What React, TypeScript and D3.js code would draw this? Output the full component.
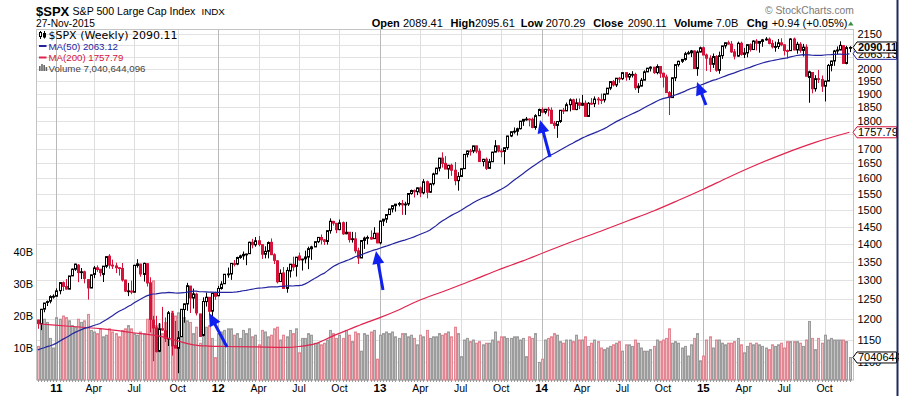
import React from 'react';
import * as d3 from 'd3';

// ---------- DATA ----------
const firstBarDate = new Date(2010, 10, 26); // weekly bars, first bar week ending 26-Nov-2010

const opens: number[] = [
  1198.0, 1189.0, 1225.0, 1242.0, 1245.0, 1256.0,
  1257.6, 1272.0, 1293.0, 1283.0, 1276.0, 1311.0, 1329.0, 1340.0, 1322.0, 1322.0, 1301.0, 1279.0, 1315.0, 1333.0, 1329.0, 1315.0, 1337.0, 1365.0, 1340.0, 1338.0, 1333.0, 1331.0, 1300.0, 1271.0, 1271.0, 1268.0, 1339.0, 1343.0, 1315.0, 1344.0, 1292.0, 1198.0, 1179.0, 1124.0, 1177.0, 1172.0, 1153.0, 1214.0, 1137.0, 1131.0, 1158.0, 1224.0, 1238.0, 1284.0, 1253.0, 1263.0, 1213.0, 1161.0, 1244.0, 1255.0, 1220.0, 1265.0,
  1258.9, 1277.8, 1290.2, 1315.0, 1316.2, 1344.3, 1343.0, 1361.2, 1365.9, 1369.6, 1371.9, 1404.2, 1397.1, 1408.5, 1397.5, 1370.3, 1378.5, 1404.0, 1368.8, 1351.9, 1296.0, 1318.9, 1278.0, 1324.2, 1342.4, 1337.0, 1365.5, 1354.7, 1357.5, 1362.3, 1385.8, 1390.9, 1405.9, 1417.9, 1411.1, 1406.5, 1437.9, 1465.4, 1459.5, 1440.9, 1461.4, 1428.8, 1433.2, 1411.9, 1414.0, 1380.0, 1359.9, 1409.5, 1416.3, 1418.1, 1414.6, 1430.6,
  1402.4, 1466.5, 1472.1, 1485.9, 1503.0, 1513.2, 1517.9, 1519.8, 1515.6, 1518.2, 1551.2, 1560.7, 1556.9, 1569.2, 1553.3, 1588.9, 1555.3, 1582.3, 1614.4, 1633.7, 1667.5, 1649.6, 1630.7, 1643.4, 1626.7, 1592.4, 1606.3, 1631.9, 1680.3, 1692.1, 1691.7, 1709.7, 1691.4, 1655.8, 1663.5, 1633.0, 1655.2, 1688.0, 1709.9, 1691.8, 1690.5, 1703.2, 1744.5, 1759.8, 1761.6, 1770.6, 1798.2, 1804.8, 1805.8, 1805.1, 1775.3, 1818.3,
  1841.4, 1831.4, 1842.4, 1838.7, 1790.3, 1782.6, 1797.0, 1838.6, 1836.3, 1859.5, 1878.0, 1841.1, 1866.5, 1857.6, 1865.1, 1815.7, 1864.9, 1863.4, 1881.1, 1878.5, 1877.9, 1900.5, 1923.6, 1949.4, 1936.2, 1962.9, 1961.0, 1985.4, 1967.6, 1978.2, 1978.3, 1925.2, 1931.6, 1955.1, 1988.4, 2003.4, 2007.7, 1985.5, 2010.4, 1982.9, 1967.9, 1906.1, 1886.8, 1964.6, 2018.1, 2031.9, 2039.8, 2063.5, 2067.6, 2075.4, 2002.3, 2070.7,
  2088.8, 2058.2, 2044.8, 2019.4, 2051.8, 1995.0, 2055.5, 2097.0, 2110.3, 2104.5, 2071.3, 2053.4, 2108.1, 2061.0, 2067.0, 2102.1, 2081.2, 2117.7, 2108.3, 2116.1, 2122.7, 2126.1, 2107.4, 2092.8, 2094.1, 2110.0, 2101.5, 2076.8, 2076.6, 2126.6, 2079.7, 2103.8, 2077.6, 2091.5, 1966.0, 1986.0, 1921.2, 1961.1, 1958.0, 1931.3, 1951.4, 2014.9, 2033.1, 2075.2, 2079.4, 2098.0, 2023.0, 2089.41,
];

const highs: number[] = [
  1198.9, 1225.6, 1240.4, 1246.7, 1260.1, 1262.6,
  1278.2, 1293.2, 1296.1, 1302.7, 1311.0, 1330.8, 1344.1, 1342.9, 1332.3, 1325.0, 1302.6, 1314.4, 1337.9, 1339.5, 1329.0, 1337.5, 1364.6, 1370.6, 1355.4, 1346.8, 1334.0, 1346.0, 1300.4, 1292.5, 1298.6, 1341.0, 1356.5, 1343.8, 1347.0, 1345.0, 1307.4, 1208.5, 1208.5, 1190.7, 1230.7, 1204.4, 1220.4, 1220.4, 1195.9, 1171.4, 1224.6, 1239.0, 1292.7, 1284.6, 1277.6, 1266.9, 1213.3, 1255.0, 1267.1, 1255.2, 1265.4, 1269.4,
  1284.6, 1296.8, 1315.5, 1333.5, 1345.3, 1354.3, 1363.4, 1368.9, 1378.0, 1372.0, 1405.9, 1414.0, 1419.2, 1422.4, 1397.5, 1392.8, 1406.6, 1415.3, 1373.0, 1353.5, 1328.5, 1334.9, 1334.5, 1343.3, 1363.5, 1362.2, 1374.8, 1357.7, 1380.4, 1391.7, 1394.2, 1405.9, 1418.7, 1426.7, 1413.5, 1438.0, 1474.5, 1467.1, 1460.9, 1470.9, 1465.0, 1464.0, 1433.2, 1434.3, 1433.4, 1388.8, 1409.2, 1420.6, 1423.7, 1438.6, 1448.0, 1430.6,
  1467.9, 1472.3, 1486.0, 1503.3, 1514.4, 1518.3, 1524.7, 1530.9, 1525.3, 1552.5, 1563.6, 1564.0, 1570.3, 1573.7, 1597.4, 1592.6, 1585.0, 1618.5, 1635.0, 1667.5, 1687.2, 1674.2, 1644.4, 1648.7, 1654.2, 1620.1, 1632.1, 1680.2, 1693.1, 1698.8, 1709.7, 1709.7, 1701.0, 1664.8, 1669.5, 1664.8, 1689.0, 1729.9, 1711.0, 1700.7, 1703.4, 1745.3, 1759.8, 1775.2, 1774.5, 1798.2, 1804.8, 1813.6, 1808.4, 1811.5, 1823.8, 1844.9,
  1849.4, 1843.2, 1850.8, 1849.3, 1798.8, 1798.0, 1838.6, 1847.5, 1867.9, 1883.6, 1882.4, 1883.0, 1883.4, 1897.3, 1875.9, 1869.6, 1884.9, 1891.3, 1889.1, 1902.2, 1901.3, 1924.0, 1949.4, 1955.6, 1963.9, 1968.2, 1985.6, 1985.6, 1983.9, 1991.4, 1984.9, 1942.9, 1964.0, 1994.8, 2005.0, 2011.2, 2007.7, 2019.3, 2010.4, 1985.2, 1977.4, 1912.1, 1965.3, 2018.2, 2034.3, 2041.3, 2071.5, 2075.8, 2079.5, 2077.3, 2077.9, 2093.6,
  2093.6, 2064.4, 2056.9, 2064.6, 2057.6, 2072.4, 2097.0, 2110.6, 2119.6, 2117.5, 2083.5, 2114.9, 2114.9, 2088.4, 2102.6, 2107.7, 2120.9, 2125.9, 2117.7, 2126.8, 2134.7, 2133.2, 2121.9, 2115.0, 2126.6, 2129.9, 2102.6, 2081.3, 2129.9, 2132.8, 2114.2, 2112.7, 2105.4, 2103.5, 1993.5, 1987.0, 1975.0, 1996.7, 1974.0, 1952.9, 2020.9, 2034.5, 2079.7, 2094.3, 2116.5, 2100.0, 2097.2, 2095.61,
];

const lows: number[] = [
  1176.9, 1173.6, 1217.2, 1232.9, 1239.5, 1251.5,
  1257.6, 1262.7, 1271.3, 1275.1, 1276.0, 1311.0, 1324.6, 1294.3, 1302.6, 1291.3, 1249.1, 1279.0, 1305.0, 1322.0, 1309.7, 1294.7, 1332.0, 1330.4, 1329.6, 1318.5, 1311.8, 1296.0, 1268.6, 1258.1, 1262.9, 1268.0, 1333.2, 1308.8, 1295.9, 1282.9, 1168.1, 1101.5, 1121.1, 1122.0, 1172.0, 1145.4, 1136.2, 1114.2, 1131.1, 1074.8, 1158.0, 1191.5, 1221.1, 1215.4, 1226.6, 1209.4, 1158.7, 1158.7, 1231.5, 1209.5, 1202.4, 1248.6,
  1258.0, 1274.7, 1290.2, 1306.1, 1300.5, 1336.6, 1340.0, 1357.7, 1354.9, 1340.0, 1370.9, 1386.9, 1391.6, 1392.8, 1357.4, 1358.8, 1358.8, 1367.9, 1343.1, 1291.0, 1295.2, 1277.8, 1266.7, 1306.6, 1324.4, 1309.3, 1352.0, 1325.4, 1345.0, 1329.2, 1354.6, 1390.9, 1401.8, 1398.0, 1396.6, 1397.4, 1429.1, 1452.8, 1430.5, 1439.4, 1425.5, 1427.3, 1403.3, 1403.3, 1373.0, 1343.4, 1359.9, 1385.4, 1398.1, 1411.6, 1413.6, 1401.6,
  1398.1, 1451.6, 1461.0, 1485.0, 1492.3, 1495.0, 1510.9, 1485.0, 1485.0, 1512.3, 1547.4, 1538.6, 1546.2, 1539.5, 1548.6, 1536.0, 1553.0, 1577.0, 1614.0, 1623.0, 1635.5, 1630.7, 1598.2, 1608.1, 1577.7, 1560.3, 1604.6, 1631.0, 1670.0, 1676.0, 1684.4, 1684.0, 1654.2, 1639.4, 1627.5, 1633.0, 1655.2, 1688.0, 1687.1, 1670.4, 1646.5, 1695.6, 1740.5, 1752.7, 1746.2, 1768.0, 1780.9, 1800.0, 1779.1, 1772.3, 1767.0, 1818.3,
  1827.7, 1823.7, 1815.8, 1790.3, 1770.5, 1737.9, 1791.8, 1824.6, 1836.3, 1834.4, 1839.6, 1839.1, 1842.7, 1855.0, 1814.4, 1815.7, 1859.7, 1850.6, 1859.8, 1862.4, 1868.1, 1900.5, 1915.9, 1930.1, 1927.8, 1944.7, 1956.0, 1952.9, 1955.6, 1965.7, 1916.4, 1904.8, 1929.9, 1955.1, 1988.4, 1990.1, 1980.3, 1978.5, 1964.0, 1926.0, 1906.1, 1820.7, 1886.8, 1951.4, 2010.0, 2025.2, 2034.5, 2060.1, 2049.6, 2002.3, 1972.6, 2069.3,
  2057.9, 1992.4, 1988.1, 2004.5, 1989.2, 1980.9, 2041.9, 2085.4, 2103.2, 2067.3, 2039.7, 2050.4, 2055.3, 2045.5, 2048.4, 2072.4, 2081.0, 2077.3, 2067.9, 2093.1, 2119.6, 2103.5, 2085.7, 2072.1, 2083.3, 2095.4, 2056.3, 2044.0, 2076.0, 2077.6, 2063.5, 2067.9, 2052.1, 1970.9, 1867.0, 1903.1, 1910.0, 1944.0, 1908.8, 1871.9, 1951.4, 1990.7, 2013.2, 2060.4, 2078.0, 2022.7, 2019.4, 2070.29,
];

const closes: number[] = [
  1189.4, 1224.7, 1240.4, 1243.9, 1256.8, 1257.6,
  1271.5, 1293.2, 1283.4, 1276.3, 1310.9, 1329.2, 1343.0, 1319.9, 1321.2, 1304.3, 1279.2, 1313.8, 1332.4, 1328.2, 1319.7, 1337.4, 1363.6, 1340.2, 1337.8, 1333.3, 1331.1, 1300.2, 1271.0, 1271.5, 1268.4, 1339.7, 1343.8, 1316.1, 1345.0, 1292.3, 1199.4, 1178.8, 1123.5, 1176.8, 1174.0, 1154.2, 1216.0, 1136.4, 1131.4, 1155.5, 1224.6, 1238.3, 1285.1, 1253.2, 1263.9, 1215.7, 1158.7, 1244.3, 1255.2, 1219.7, 1265.3, 1257.6,
  1277.8, 1289.1, 1315.4, 1316.3, 1344.9, 1342.6, 1361.2, 1365.7, 1370.0, 1370.9, 1404.2, 1397.1, 1408.5, 1398.1, 1370.3, 1378.5, 1403.4, 1369.1, 1353.4, 1295.2, 1317.8, 1278.0, 1325.7, 1342.8, 1335.0, 1362.2, 1354.7, 1356.8, 1362.7, 1386.0, 1391.0, 1405.9, 1418.2, 1411.1, 1406.6, 1437.9, 1465.8, 1460.2, 1440.7, 1460.9, 1428.6, 1433.2, 1411.9, 1414.2, 1379.9, 1359.9, 1409.2, 1416.2, 1418.1, 1413.6, 1430.2, 1402.4,
  1466.5, 1472.1, 1486.0, 1503.0, 1513.2, 1517.9, 1519.8, 1515.6, 1518.2, 1551.2, 1560.7, 1556.9, 1569.2, 1553.3, 1588.9, 1555.3, 1582.2, 1614.4, 1633.7, 1667.5, 1649.6, 1630.7, 1643.4, 1626.7, 1592.4, 1606.3, 1631.9, 1680.2, 1692.1, 1691.7, 1709.7, 1691.4, 1655.8, 1663.5, 1633.0, 1655.2, 1688.0, 1709.9, 1691.8, 1690.5, 1703.2, 1744.5, 1759.8, 1761.6, 1770.6, 1798.2, 1804.8, 1805.8, 1805.1, 1775.3, 1818.3, 1841.4,
  1831.4, 1842.4, 1838.7, 1790.3, 1782.6, 1797.0, 1838.6, 1836.3, 1859.5, 1878.0, 1841.1, 1866.5, 1857.6, 1865.1, 1815.7, 1864.9, 1863.4, 1881.1, 1878.5, 1877.9, 1900.5, 1923.6, 1949.4, 1936.2, 1962.9, 1961.0, 1985.4, 1967.6, 1978.2, 1978.3, 1925.2, 1931.6, 1955.1, 1988.4, 2003.4, 2007.7, 1985.5, 2010.4, 1982.9, 1967.9, 1906.1, 1886.8, 1964.6, 2018.1, 2031.9, 2039.8, 2063.5, 2067.6, 2075.4, 2002.3, 2070.7, 2088.8,
  2058.2, 2044.8, 2019.4, 2051.8, 1995.0, 2055.5, 2097.0, 2110.3, 2104.5, 2071.3, 2053.4, 2108.1, 2061.0, 2067.0, 2102.1, 2081.2, 2117.7, 2108.3, 2116.1, 2122.7, 2126.1, 2107.4, 2092.8, 2094.1, 2110.0, 2101.5, 2076.8, 2076.6, 2126.6, 2079.7, 2103.8, 2077.6, 2091.5, 1970.9, 1988.9, 1921.2, 1961.1, 1958.0, 1931.3, 1951.4, 2014.9, 2033.1, 2075.2, 2079.4, 2099.2, 2023.0, 2089.2, 2090.11,
];

// weekly volume, billions of shares
const volumesB: number[] = [
  10.5, 20.5, 19.0, 18.0, 13.0, 10.0,
  19.5, 19.0, 20.0, 19.5, 18.5, 17.0, 16.5, 19.0, 18.0, 18.5, 20.5, 15.5, 15.0, 14.5, 16.0, 13.5, 14.0, 16.0, 15.0, 14.5, 13.5, 15.5, 16.0, 17.0, 16.0, 14.5, 14.0, 15.0, 14.5, 19.0, 30.5, 31.0, 17.0, 17.5, 14.5, 18.0, 19.0, 21.5, 20.0, 21.0, 18.0, 19.5, 18.5, 18.0, 14.5, 16.5, 11.5, 18.5, 16.5, 17.0, 13.0, 7.0,
  14.5, 15.0, 15.5, 16.0, 16.0, 14.0, 14.5, 13.0, 15.5, 14.5, 16.0, 13.5, 14.0, 11.0, 15.5, 15.0, 13.5, 14.0, 16.0, 16.5, 12.5, 14.0, 13.5, 15.5, 14.5, 16.0, 8.5, 13.0, 13.0, 14.5, 14.0, 11.5, 11.5, 11.0, 11.5, 12.5, 15.5, 14.5, 13.0, 14.0, 13.0, 15.5, 14.0, 12.0, 15.0, 14.5, 9.0, 14.5, 14.0, 15.0, 15.5, 6.5,
  14.0, 14.5, 15.0, 14.5, 15.0, 13.5, 13.0, 14.5, 14.5, 13.5, 14.0, 13.0, 11.0, 14.0, 13.5, 15.5, 13.0, 13.5, 13.5, 14.5, 14.0, 14.5, 15.0, 13.5, 16.5, 14.5, 7.3, 12.5, 13.0, 12.0, 12.5, 11.5, 12.0, 11.0, 11.5, 11.5, 12.5, 15.0, 12.0, 13.5, 13.5, 13.0, 13.0, 13.5, 13.5, 12.5, 13.0, 7.3, 13.5, 13.0, 14.5, 5.5,
  6.5, 12.5, 13.0, 13.5, 14.5, 14.0, 12.0, 11.5, 12.5, 12.5, 12.0, 14.0, 12.5, 12.5, 13.5, 10.5, 11.5, 12.5, 12.0, 10.0, 9.5, 10.0, 10.5, 11.0, 11.5, 12.0, 9.0, 11.0, 11.0, 10.5, 12.5, 11.5, 10.0, 9.0, 9.0, 9.5, 10.5, 12.5, 12.0, 12.5, 13.0, 16.0, 11.5, 12.0, 11.5, 10.0, 10.5, 7.5, 11.0, 13.0, 14.5, 6.0,
  7.5, 12.5, 13.5, 10.0, 12.5, 12.5, 11.5, 11.0, 11.5, 11.5, 12.0, 13.0, 11.0, 8.5, 10.5, 11.5, 11.0, 11.5, 11.0, 10.5, 10.0, 9.5, 11.0, 10.5, 11.0, 11.5, 10.0, 12.0, 12.0, 12.0, 12.0, 11.5, 10.5, 12.5, 18.3, 13.0, 9.5, 13.0, 11.5, 14.0, 12.5, 13.0, 12.5, 12.5, 12.5, 12.5, 12.0, 7.040644096,
];

// weekly closes of the 51 weeks before the first bar (needed for the 50-week average)
const priorCloses: number[] = [
  1106.0, 1106.4, 1102.5, 1126.5, 1115.1, 1145.0, 1136.0, 1091.8, 1073.9, 1066.2, 1075.5, 1109.2, 1104.5,
  1138.7, 1150.0, 1159.9, 1166.6, 1178.1, 1194.4, 1192.1, 1217.3, 1186.7, 1110.9, 1135.7, 1087.7, 1089.4,
  1064.9, 1091.6, 1117.5, 1076.8, 1022.6, 1078.0, 1064.9, 1102.7, 1101.6, 1121.6, 1079.3, 1071.7, 1064.6,
  1104.5, 1109.6, 1125.6, 1148.7, 1146.2, 1165.2, 1176.2, 1183.1, 1183.3, 1225.9, 1199.2, 1199.7,
];

// 200-week moving average at selected bars
const ma200Bars: number[] = [0, 10, 20, 30, 40, 45, 50, 55, 60, 70, 80, 84, 89, 95, 100, 105, 110, 116, 122, 131, 140, 148, 156, 163, 170, 182, 190, 198, 206, 214, 222, 230, 240, 250, 261];
const ma200Values: number[] = [1189, 1183, 1177, 1168, 1158, 1148, 1139, 1136, 1135, 1134, 1133, 1135, 1141, 1160, 1175, 1190, 1204, 1223, 1245, 1272, 1300, 1327, 1352, 1376, 1400, 1440, 1468, 1497, 1530, 1565, 1603, 1640, 1683, 1722, 1757.79];

const priceTicks: number[] = d3.range(1100, 2151, 50);
const volumeTicksB: number[] = [10, 20, 30, 40];

// annotation arrows: [tailX, tailY, tipX, tipY] in chart pixels
const arrows: number[][] = [
  [227, 347, 209, 313],
  [383, 290, 376, 251],
  [550, 157, 540, 120],
  [706, 105, 697, 82],
];

const headerStats: [string, string, number, number][] = [
  ['Open', '2089.41', 371.7, 403],
  ['High', '2095.61', 450.5, 475],
  ['Low', '2070.29', 520.7, 545.7],
  ['Close', '2090.11', 593.3, 627.7],
  ['Volume', '7.0B', 674, 715.7],
  ['Chg', '+0.94 (+0.05%)', 746.7, 771.7],
];

// ---------- STYLE ----------
const SANS = '"Liberation Sans", Arial, Helvetica, sans-serif';
const VERD = '"DejaVu Sans", Verdana, sans-serif';
const RED = '#d4133b';
const MA50C = '#24249f';
const MA200C = '#e0244e';
const ARROW = '#1020ee';

const PL = 36, PR = 853.5, PT = 29.5, PB = 380;

export default function App() {
  const n = closes.length;
  const dates = d3.range(n).map((i) => d3.timeDay.offset(firstBarDate, 7 * i));

  const x = d3.scaleLinear().domain([0, n - 1]).range([37.8, 849.5]);
  const y = d3.scaleLog().domain([1060, 2166]).range([PB, 30]);
  const yv = d3.scaleLinear().domain([0, 109.4]).range([PB, 30]);

  const allCloses = priorCloses.concat(closes);
  const P = priorCloses.length;
  const ma50 = closes.map((_, i) => d3.mean(allCloses.slice(P + i - 49, P + i + 1)) as number);

  const lineMA50 = d3.line<number>().x((_, i) => x(i)).y((v) => y(v));
  const lineMA200 = d3
    .line<number>()
    .x((_, k) => x(ma200Bars[k]))
    .y((v) => y(v))
    .curve(d3.curveMonotoneX);

  // quarter labels
  const quarterMarks: { i: number; label: string; year: boolean }[] = [];
  for (let i = 1; i < n; i++) {
    const m = dates[i].getMonth();
    if (m !== dates[i - 1].getMonth() && m % 3 === 0) {
      if (m === 0) quarterMarks.push({ i, label: d3.timeFormat('%y')(dates[i]), year: true });
      else quarterMarks.push({ i, label: d3.timeFormat('%b')(dates[i]), year: false });
    }
  }

  const up = (i: number) => (i === 0 ? closes[i] >= opens[i] : closes[i] >= closes[i - 1]);

  const last = n - 1;
  const lastMA200 = ma200Values[ma200Values.length - 1];
  const tagYs = [y(ma50[last]), y(closes[last]), y(lastMA200)];
  // price tick labels completely hidden behind the value tags are not drawn
  const visibleTicks = priceTicks.filter((p) => tagYs.every((ty) => Math.abs(y(p) - ty) > 3.5));

  const tag = (cy: number, text: string, border: string, bold: boolean, key: string) => (
    <g key={key}>
      <path
        d={`M${PR - 0.5},${cy} L${PR + 3.5},${cy - 5.5} L896.5,${cy - 5.5} L896.5,${cy + 5.5} L${PR + 3.5},${cy + 5.5} Z`}
        fill="#fff"
        stroke={border}
        strokeWidth={1}
      />
      <text x={858} y={cy + 4} fontFamily={SANS} fontSize={11} fontWeight={bold ? 'bold' : 'normal'} fill="#000">
        {text}
      </text>
    </g>
  );

  return (
    <svg width={899} height={396} style={{ position: 'absolute', left: 0, top: 0, background: '#fff' }}>
      <rect x={0} y={0} width={899} height={396} fill="#fff" />

      {/* header */}
      <text x={36} y={15.5} fontFamily={SANS} fontSize={13} fontWeight="bold" fill="#000">$SPX</text>
      <text x={72.5} y={15} fontFamily={SANS} fontSize={10.6} fill="#000">S&amp;P 500 Large Cap Index</text>
      <text x={201.5} y={15} fontFamily={SANS} fontSize={9.8} fill="#000">INDX</text>
      <text x={36} y={26.5} fontFamily={SANS} fontSize={10.2} fill="#000">27-Nov-2015</text>
      <text x={765} y={14} fontFamily={SANS} fontSize={10.3} fill="#7a7a7a">© StockCharts.com</text>
      {headerStats.map(([k, v, kx, vx]) => (
        <g key={k}>
          <text x={kx} y={26.5} fontFamily={SANS} fontSize={11} fontWeight="bold" fill="#000">{k}</text>
          <text x={vx} y={26.5} fontFamily={SANS} fontSize={11} fill="#000">{v}</text>
        </g>
      ))}
      <polygon points="848,25.5 853.5,25.5 850.75,21.5" fill="#3a8f3a" />

      {/* grid */}
      {priceTicks.map((p) => (
        <line key={'h' + p} x1={PL} x2={PR} y1={Math.round(y(p)) + 0.5} y2={Math.round(y(p)) + 0.5} stroke="#e2e2e2" strokeWidth={1} />
      ))}
      {quarterMarks.map((q) => (
        <line
          key={'v' + q.i}
          x1={Math.round(x(q.i)) + 0.5}
          x2={Math.round(x(q.i)) + 0.5}
          y1={PT}
          y2={PB}
          stroke={q.year ? '#b9b9b9' : '#dddddd'}
          strokeWidth={1}
        />
      ))}
      <rect x={PL + 0.5} y={PT} width={PR - PL - 0.5} height={PB - PT} fill="none" stroke="#c4c4c4" strokeWidth={1} />

      {/* volume */}
      {volumesB.map((v, i) => {
        const cx = Math.round(x(i));
        const top = yv(v);
        return (
          <rect
            key={'vol' + i}
            x={cx - 0.5}
            y={top}
            width={2}
            height={PB - top}
            fill={up(i) ? '#c4c4c4' : '#f3bcc2'}
            stroke={up(i) ? '#9c9c9c' : '#e28894'}
            strokeWidth={1}
          />
        );
      })}

      {/* candles */}
      {closes.map((c, i) => {
        const cx = Math.round(x(i));
        const col = up(i) ? '#000' : RED;
        const hollow = c > opens[i];
        const yo = y(opens[i]);
        const yc = y(c);
        const top = Math.min(yo, yc);
        const h = Math.max(Math.abs(yo - yc), 0.8);
        return (
          <g key={'c' + i}>
            <line x1={cx + 0.5} x2={cx + 0.5} y1={y(highs[i])} y2={y(lows[i])} stroke={col} strokeWidth={1} />
            <rect x={cx - 0.5} y={top} width={2} height={h} fill={hollow ? '#fff' : col} stroke={col} strokeWidth={1} />
          </g>
        );
      })}

      {/* moving averages */}
      <path d={lineMA200(ma200Values) || ''} fill="none" stroke={MA200C} strokeWidth={1.2} />
      <path d={lineMA50(ma50) || ''} fill="none" stroke={MA50C} strokeWidth={1.2} />

      {/* arrows */}
      {arrows.map(([tx, ty, hx, hy], k) => {
        const dx = hx - tx;
        const dy = hy - ty;
        const len = Math.hypot(dx, dy);
        const ux = dx / len;
        const uy = dy / len;
        const hl = 13;
        const hw = 6;
        const bx = hx - ux * hl;
        const by = hy - uy * hl;
        const px = -uy;
        const py = ux;
        return (
          <g key={'a' + k}>
            <line x1={tx} y1={ty} x2={bx + ux * 2} y2={by + uy * 2} stroke={ARROW} strokeWidth={3} />
            <polygon
              points={`${hx},${hy} ${bx + px * hw},${by + py * hw} ${bx - px * hw},${by - py * hw}`}
              fill={ARROW}
            />
          </g>
        );
      })}

      {/* legend */}
      <g>
        <line x1={40.5} x2={40.5} y1={31} y2={39} stroke="#000" strokeWidth={1} />
        <rect x={39.5} y={32.5} width={2} height={4} fill="#fff" stroke="#000" strokeWidth={1} />
        <line x1={44.5} x2={44.5} y1={31} y2={38.5} stroke="#000" strokeWidth={1} />
        <rect x={43.5} y={33.5} width={2} height={3.5} fill="#000" stroke="#000" strokeWidth={1} />
        <text x={48.5} y={38.7} fontFamily={VERD} fontSize={11} fill="#000">$SPX (Weekly) 2090.11</text>

        <line x1={39} x2={46.5} y1={46} y2={46} stroke={MA50C} strokeWidth={2} />
        <text x={48.5} y={49.6} fontFamily={SANS} fontSize={9.7} fill={MA50C}>MA(50) 2063.12</text>

        <line x1={39} x2={46.5} y1={57.5} y2={57.5} stroke={MA200C} strokeWidth={2} />
        <text x={48.5} y={61} fontFamily={SANS} fontSize={9.7} fill={RED}>MA(200) 1757.79</text>

        <rect x={39} y={66} width={1.6} height={5} fill="#666" />
        <rect x={41.2} y={64} width={1.6} height={7} fill="#666" />
        <rect x={43.4} y={65} width={1.6} height={6} fill="#666" />
        <rect x={45.6} y={67} width={1.6} height={4} fill="#666" />
        <text x={48.5} y={71.5} fontFamily={SANS} fontSize={9.7} fill="#444">Volume 7,040,644,096</text>
      </g>

      {/* bottom axis */}
      {closes.map((_, i) => (
        <line key={'t' + i} x1={Math.round(x(i)) + 0.5} x2={Math.round(x(i)) + 0.5} y1={PB} y2={PB + 2} stroke="#9a9a9a" strokeWidth={1} />
      ))}
      {quarterMarks.map((q) => (
        <text
          key={'l' + q.i}
          x={x(q.i)}
          y={391.5}
          textAnchor="middle"
          fontFamily={SANS}
          fontSize={q.year ? 11.5 : 10.5}
          fontWeight={q.year ? 'bold' : 'normal'}
          fill="#000"
        >
          {q.label}
        </text>
      ))}

      {/* left volume axis */}
      {volumeTicksB.map((v) => (
        <text key={'vt' + v} x={33} y={yv(v) + 4} textAnchor="end" fontFamily={SANS} fontSize={11} fill="#000">
          {v}B
        </text>
      ))}

      {/* right price axis */}
      {visibleTicks.map((p) => (
        <text key={'pt' + p} x={857.5} y={y(p) + 4} fontFamily={SANS} fontSize={11} fill="#000">
          {p}
        </text>
      ))}

      {tag(y(ma50[last]), ma50[last].toFixed(2), '#23239f', false, 'tm50')}
      {tag(y(closes[last]), closes[last].toFixed(2), '#000', true, 'tc')}
      {tag(y(lastMA200), lastMA200.toFixed(2), RED, false, 'tm200')}
      {tag(yv(volumesB[last]), String(Math.round(volumesB[last] * 1e6)), '#000', false, 'tv')}

      <line x1={897.5} x2={897.5} y1={0} y2={396} stroke="#1e2a5e" strokeWidth={2} />
    </svg>
  );
}
